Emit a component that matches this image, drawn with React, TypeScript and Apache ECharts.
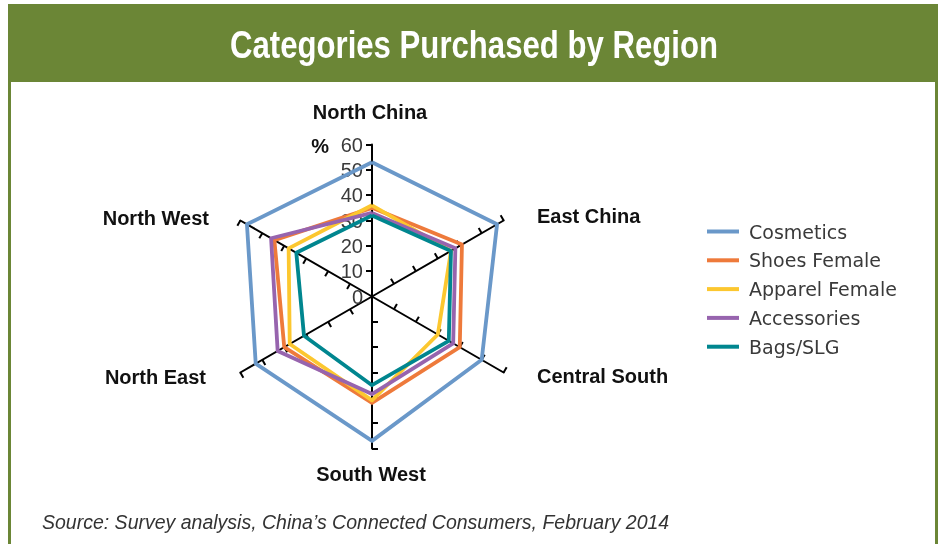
import React, { useEffect, useRef } from "react";
import * as echarts from "echarts";

// Radar categories, in ECharts (counter-clockwise from top) order
const categories = ["North China", "North West", "North East", "South West", "Central South", "East China"];

const seriesNames = ["Cosmetics", "Shoes Female", "Apparel Female", "Accessories", "Bags/SLG"];

// values in %, same order as categories
const cosmetics = [53, 57, 53, 57, 50, 57];
const shoesFemale = [35, 44.5, 40, 42, 40, 41];
const apparelFemale = [36, 38, 37.5, 41, 30, 36];
const accessories = [33, 46, 43, 38.5, 37, 38];
const bagsSLG = [32, 34.5, 31, 35, 35, 36];

const axisMax = 60;
const axisSplits = 6;
const tickValues = [10, 20, 30, 40, 50, 60];

const title = "Categories Purchased by Region";
const unitLabel = "%";
const sourceNote = "Source: Survey analysis, China\u2019s Connected Consumers, February 2014";

const colors = ["#6a98c9", "#ee7a3b", "#fcc72f", "#9764ae", "#00868f"];

export default function App() {
  const ref = useRef<HTMLDivElement>(null);
  useEffect(() => {
    if (!ref.current) return;
    const chart = echarts.init(ref.current, undefined, { renderer: "svg" });
    const values = [cosmetics, shoesFemale, apparelFemale, accessories, bagsSLG];

    const labelPos: Record<string, { x: number; y: number; align: string }> = {
      "North China": { x: 370, y: 112, align: "center" },
      "North West": { x: 209, y: 218, align: "right" },
      "North East": { x: 206, y: 377, align: "right" },
      "South West": { x: 371, y: 474, align: "center" },
      "Central South": { x: 537, y: 376, align: "left" },
      "East China": { x: 537, y: 216, align: "left" },
    };

    const regionFont = '"Liberation Sans", Arial, sans-serif';

    chart.setOption({
      animation: false,
      color: colors,
      legend: {
        orient: "vertical",
        left: 702,
        top: 217,
        icon: "rect",
        itemWidth: 32,
        itemHeight: 4,
        itemGap: 9.8,
        data: seriesNames,
        textStyle: {
          fontFamily: '"DejaVu Sans", sans-serif',
          fontSize: 19,
          lineHeight: 19,
          color: "#3a3a3a",
          padding: [0, 0, 0, 5],
        },
      },
      radar: {
        center: [372, 296.5],
        radius: 152,
        startAngle: 90,
        splitNumber: axisSplits,
        shape: "polygon",
        axisName: { show: false },
        splitLine: { show: false },
        splitArea: { show: false },
        axisLine: { lineStyle: { color: "#000", width: 2 } },
        axisTick: { show: true, length: 6, customValues: tickValues, lineStyle: { color: "#000", width: 2 } },
        axisLabel: { show: false },
        indicator: categories.map((name, i) =>
          i === 0
            ? {
                name,
                min: 0,
                max: axisMax,
                axisLabel: {
                  show: true,
                  margin: 9,
                  fontFamily: '"Liberation Sans", Arial, sans-serif',
                  fontSize: 20,
                  color: "#3a3a3a",
                },
              }
            : { name, min: 0, max: axisMax }
        ),
      },
      series: [
        {
          type: "radar",
          symbol: "none",
          lineStyle: { width: 3.8 },
          data: seriesNames.map((n, i) => ({
            name: n,
            value: values[i],
            lineStyle: { width: 3.8, color: colors[i] },
            itemStyle: { color: colors[i] },
          })),
        },
      ],
      graphic: [
        { type: "rect", shape: { x: 8, y: 4, width: 930, height: 78 }, style: { fill: "#6b8636" }, z: -1 },
        { type: "rect", shape: { x: 8, y: 82, width: 3, height: 470 }, style: { fill: "#6b8636" }, z: -1 },
        { type: "rect", shape: { x: 935, y: 82, width: 3, height: 470 }, style: { fill: "#6b8636" }, z: -1 },
        {
          type: "text",
          x: 474,
          y: 45,
          scaleX: 0.82,
          style: {
            text: title,
            fill: "#ffffff",
            font: `bold 38px ${regionFont}`,
            textAlign: "center",
            textVerticalAlign: "middle",
          },
        },
        {
          type: "text",
          x: 329,
          y: 146,
          style: {
            text: unitLabel,
            fill: "#111",
            font: `bold 20px ${regionFont}`,
            textAlign: "right",
            textVerticalAlign: "middle",
          },
        },
        ...categories.map((c) => ({
          type: "text",
          x: labelPos[c].x,
          y: labelPos[c].y,
          style: {
            text: c,
            fill: "#111",
            font: `bold 20px ${regionFont}`,
            textAlign: labelPos[c].align,
            textVerticalAlign: "middle",
          },
        })),
        {
          type: "text",
          x: 42,
          y: 522,
          style: {
            text: sourceNote,
            fill: "#333",
            font: `italic 19.5px ${regionFont}`,
            textAlign: "left",
            textVerticalAlign: "middle",
          },
        },
      ],
    });
    return () => chart.dispose();
  }, []);
  return <div ref={ref} style={{ position: "fixed", left: 0, top: 0, width: 943, height: 544 }} />;
}
